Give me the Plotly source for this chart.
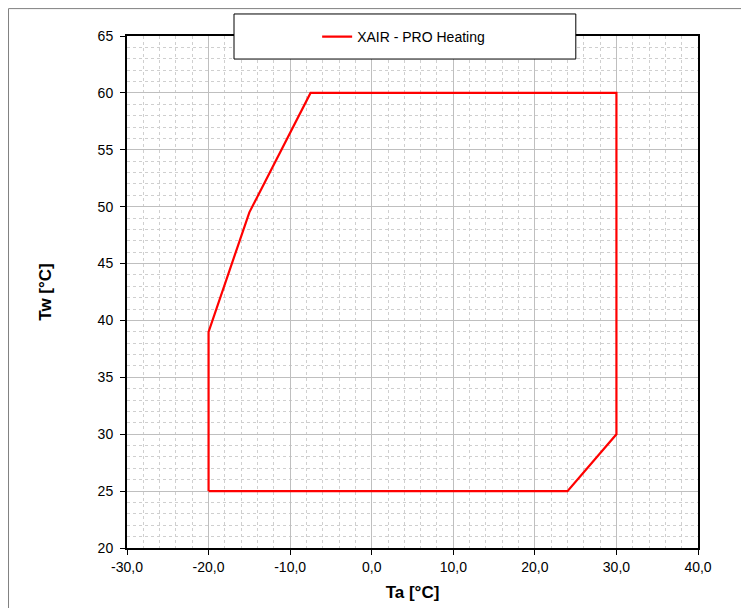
import plotly.graph_objects as go

ta = [-20, -20, -15, -7.5, 30, 30, 24, -20]
tw = [25, 39, 49.5, 60, 60, 30, 25, 25]
series_name = "XAIR - PRO Heating"
x_tickvals = [-30, -20, -10, 0, 10, 20, 30, 40]
x_ticktext = ["-30,0", "-20,0", "-10,0", "0,0", "10,0", "20,0", "30,0", "40,0"]
y_tickvals = [20, 25, 30, 35, 40, 45, 50, 55, 60, 65]

fig = go.Figure()
fig.add_trace(go.Scatter(x=ta, y=tw, mode="lines", name=series_name,
                         line=dict(color="#ff0000", width=2.2)))

fig.update_layout(
    width=749, height=608,
    margin=dict(l=119, r=59, t=28, b=68),
    paper_bgcolor="white", plot_bgcolor="white",
    font=dict(family="Liberation Sans, Arial", size=14, color="black"),
    showlegend=True,
    legend=dict(x=0.333, y=0.998, xanchor="left", yanchor="middle",
                bgcolor="rgba(0,0,0,0)", font=dict(size=14)),
    shapes=[
        dict(type="rect", xref="paper", yref="paper", x0=0.1874, x1=0.786,
             y0=0.955, y1=1.043, line=dict(color="black", width=1),
             fillcolor="white", layer="above"),
        dict(type="rect", xref="paper", yref="paper", x0=-0.2075, x1=1.2,
             y0=-0.3, y1=1.0535, line=dict(color="#808080", width=1),
             fillcolor="rgba(0,0,0,0)", layer="below"),
    ],
)

fig.update_xaxes(
    range=[-30, 40], tickvals=x_tickvals, ticktext=x_ticktext,
    showline=True, linecolor="black", linewidth=2, mirror=True,
    ticks="outside", ticklen=5, tickcolor="black",
    showgrid=True, gridcolor="#bfbfbf", gridwidth=1,
    zeroline=False,
    minor=dict(dtick=2, tick0=0, showgrid=True, gridcolor="#cfcfcf", griddash="dot"),
    title=dict(text="<b>Ta [°C]</b>", font=dict(size=17), standoff=12),
)
fig.update_yaxes(
    range=[20, 65], tickvals=y_tickvals,
    showline=True, linecolor="black", linewidth=2, mirror=True,
    ticks="outside", ticklen=5, tickcolor="black", ticklabelstandoff=4,
    showgrid=True, gridcolor="#bfbfbf", gridwidth=1,
    zeroline=False,
    minor=dict(dtick=1, tick0=0, showgrid=True, gridcolor="#cfcfcf", griddash="dot"),
    title=dict(text="<b>Tw [°C]</b>", font=dict(size=17), standoff=42),
)

fig.write_html("out.html")
